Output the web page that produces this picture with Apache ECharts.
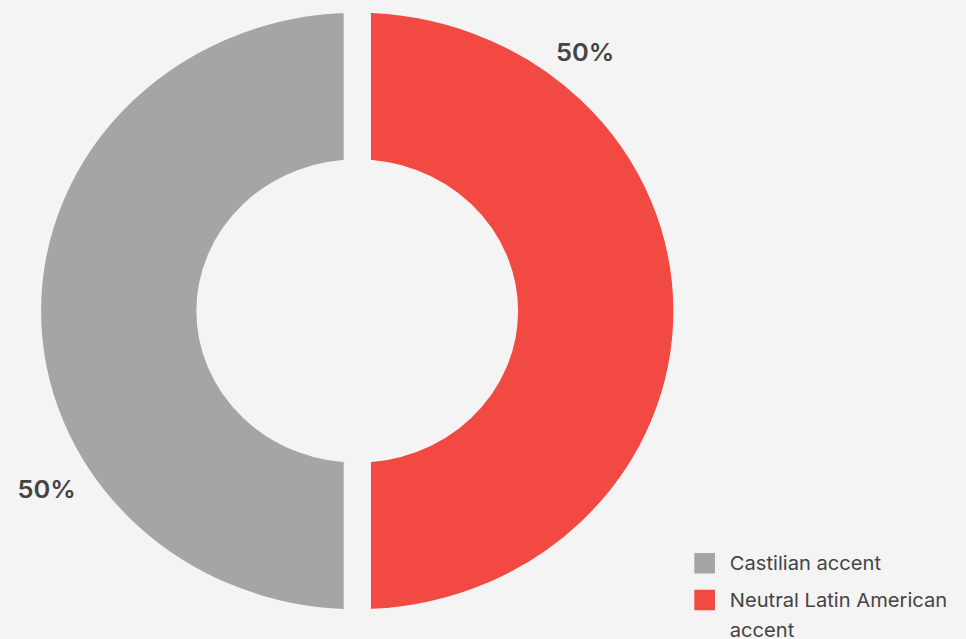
<!DOCTYPE html>
<html>
<head>
<meta charset="utf-8">
<script src="https://cdn.jsdelivr.net/npm/echarts@6/dist/echarts.min.js"></script>
<style>
  html, body { margin: 0; padding: 0; background: #f4f4f4; overflow: hidden; }
  /* the reference donut is a bit wider than tall, so stretch the drawing */
  #chart { width: 911px; height: 639px; transform: scaleX(1.06); transform-origin: 0 0; }
</style>
</head>
<body>
<div id="chart"></div>
<script>
// accent split
var sliceNames = ['Neutral Latin American accent', 'Castilian accent'];
var sliceValues = [50, 50];
var sliceColors = ['#f24a42', '#a5a5a5'];
var legendOrder = ['Castilian accent', 'Neutral Latin American accent'];

// where the percentage labels sit (unstretched px)
var labelSpots = [[552, 52], [44, 489]];

var bg = '#f4f4f4';
var chart = echarts.init(document.getElementById('chart'), null, { renderer: 'svg' });

var pieData = sliceNames.map(function (n, i) {
  return { name: n, value: sliceValues[i], itemStyle: { color: sliceColors[i] } };
});

var option = {
  backgroundColor: bg,
  animation: false,
  legend: {
    orient: 'vertical',
    left: 653,
    top: 548.25,
    height: 200,
    padding: 0,
    itemGap: -23.25,
    itemWidth: 21.5,
    itemHeight: 22.5,
    icon: 'rect',
    selectedMode: false,
    // empty first line keeps the wrapped name's first line level with its square
    formatter: function (name) {
      return name === legendOrder[1] ? '\n' + name : name;
    },
    textStyle: {
      fontFamily: 'Inter',
      fontSize: 19,
      color: '#444',
      lineHeight: 30,
      width: 215,
      overflow: 'break',
      padding: [0, 0, 0, 8]
    },
    data: legendOrder
  },
  series: [{
    type: 'pie',
    center: [337, 311],
    radius: [139, 311],
    startAngle: 90,
    clockwise: true,
    itemStyle: { borderColor: bg, borderWidth: 25.5, borderJoin: 'miter' },
    emphasis: { disabled: true },
    label: {
      show: true,
      position: 'inside',
      formatter: '{d}%',
      fontFamily: 'Inter',
      fontWeight: 600,
      fontSize: 24,
      color: '#444'
    },
    labelLine: { show: false },
    labelLayout: function (p) {
      var s = labelSpots[p.dataIndex];
      return { x: s[0], y: s[1], align: 'center', verticalAlign: 'middle' };
    },
    data: pieData
  }]
};

chart.setOption(option);
</script>
</body>
</html>
